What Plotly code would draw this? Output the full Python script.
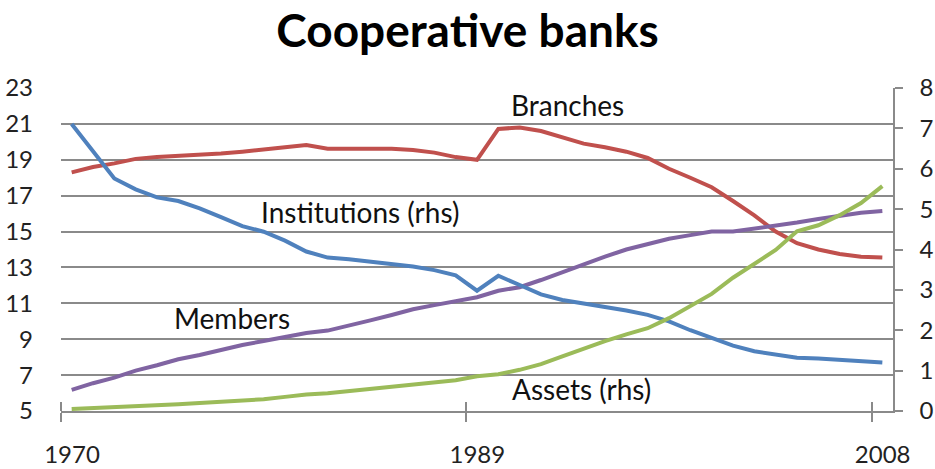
import plotly.graph_objects as go

years = list(range(1970, 2009))

# left-hand scale
branches = [18.3, 18.6, 18.8, 19.05, 19.15, 19.2, 19.25, 19.35, 19.45, 19.55,
            19.7, 19.82, 19.62, 19.62, 19.63, 19.62, 19.55, 19.4, 19.15, 19.0,
            20.72, 20.8, 20.6, 20.25, 19.9, 19.7, 19.45, 19.1, 18.5, 18.0,
            17.47, 16.7, 15.9, 15.0, 14.35, 14.0, 13.75, 13.6, 13.55]
members = [6.18, 6.55, 6.86, 7.25, 7.55, 7.88, 8.12, 8.4, 8.68, 8.9,
           9.15, 9.35, 9.48, 9.75, 10.05, 10.35, 10.67, 10.9, 11.12, 11.34,
           11.7, 11.9, 12.3, 12.75, 13.2, 13.6, 14.0, 14.3, 14.6, 14.8,
           15.0, 15.0, 15.15, 15.3, 15.5, 15.7, 15.9, 16.05, 16.15]

# right-hand scale
institutions = [7.11, 6.44, 5.76, 5.49, 5.29, 5.2, 5.02, 4.8, 4.58, 4.44,
                4.22, 3.95, 3.8, 3.76, 3.7, 3.64, 3.58, 3.49, 3.36, 2.98,
                3.35, 3.12, 2.89, 2.75, 2.67, 2.59, 2.49, 2.38, 2.22, 2.0,
                1.8, 1.62, 1.48, 1.39, 1.32, 1.3, 1.27, 1.24, 1.2]
assets = [0.05, 0.07, 0.09, 0.12, 0.15, 0.17, 0.2, 0.23, 0.26, 0.29,
          0.35, 0.41, 0.44, 0.49, 0.54, 0.59, 0.64, 0.69, 0.76, 0.86,
          0.91, 1.02, 1.16, 1.35, 1.55, 1.73, 1.9, 2.05, 2.3, 2.6,
          2.9, 3.3, 3.65, 3.99, 4.45, 4.6, 4.85, 5.15, 5.57]

x_labels = ["1970", "1989", "2008"]
x_label_years = [1970, 1989, 2008]

# series labels placed in (year, left-scale value)
labels = ["Branches", "Institutions (rhs)", "Members", "Assets (rhs)"]
label_x = [1993.25, 1983.5, 1977.5, 1993.9]
label_y = [22.05, 16.1, 10.2, 6.2]

FONT = "Lato"
GRID = "#8a8a8a"

fig = go.Figure()
fig.add_trace(go.Scatter(x=years, y=branches, mode="lines", name="Branches",
                         line=dict(color="#C0504D", width=4)))
fig.add_trace(go.Scatter(x=years, y=members, mode="lines", name="Members",
                         line=dict(color="#8064A2", width=4)))
fig.add_trace(go.Scatter(x=years, y=institutions, mode="lines", name="Institutions",
                         yaxis="y2", line=dict(color="#4F81BD", width=4)))
fig.add_trace(go.Scatter(x=years, y=assets, mode="lines", name="Assets",
                         yaxis="y2", line=dict(color="#9BBB59", width=4)))

for txt, lx, ly in zip(labels, label_x, label_y):
    fig.add_annotation(x=lx, y=ly, xref="x", yref="y", text=txt, showarrow=False,
                       font=dict(family=FONT, size=28, color="#111111"))

# category-style ticks sit between years, labels under the year itself
tick_pos = [y - 0.5 for y in x_label_years]

fig.update_layout(
    width=935, height=469,
    margin=dict(l=61, r=42, t=88, b=58),
    paper_bgcolor="white", plot_bgcolor="white",
    showlegend=False,
    font=dict(family=FONT, size=24, color="#222222"),
    title=dict(text="<b>Cooperative banks</b>", x=0.5, xref="container",
               y=0.935, yanchor="middle",
               font=dict(family=FONT, size=46, color="black")),
    xaxis=dict(range=[1969.5, 2008.5], tickmode="array", tickvals=tick_pos,
               ticktext=x_labels, ticklabelshift=11, ticks="outside", ticklen=9,
               tickcolor=GRID, tickwidth=1.5, showgrid=False, zeroline=False,
               showline=True, linecolor=GRID, linewidth=1.5,
               ticklabelstandoff=12, automargin=False,
               minor=dict(tickmode="array", tickvals=[p + 0.001 for p in tick_pos],
                          ticks="inside", ticklen=9, tickcolor=GRID, tickwidth=1.5,
                          showgrid=False)),
    yaxis=dict(range=[5, 23], dtick=2, tick0=5, showgrid=True, gridcolor=GRID,
               gridwidth=1.5, zeroline=False, showline=False, ticks="",
               ticklabelstandoff=27, automargin=False),
    yaxis2=dict(range=[0, 8], dtick=1, tick0=0, overlaying="y", side="right",
                showgrid=False, zeroline=False, showline=True, linecolor=GRID,
                linewidth=1.5, ticks="outside", ticklen=8, tickcolor=GRID,
                tickwidth=1.5, ticklabelstandoff=12, automargin=False),
)

# drop the default page margin so the 935x469 figure fills the window exactly
fig.write_html("out.html", config={"displayModeBar": False},
               post_script="document.body.style.margin='0';"
                           "document.body.style.overflow='hidden';")
